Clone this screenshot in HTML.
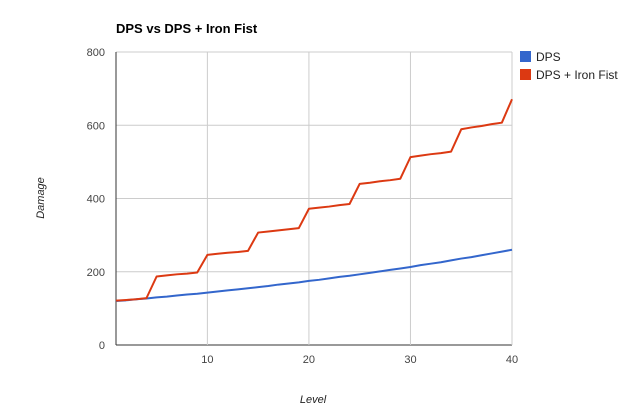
<!DOCTYPE html>
<html><head><meta charset="utf-8"><style>
body{margin:0;background:#fff;font-family:"Liberation Sans",Arial,sans-serif;}
svg text{font-family:"Liberation Sans",Arial,sans-serif;}
</style></head><body>
<svg id="chart" width="640" height="408" xmlns="http://www.w3.org/2000/svg">
<text x="116" y="33" font-size="13" font-weight="bold" fill="#000">DPS vs DPS + Iron Fist</text>
<g id="grid"></g>
<g id="series"></g>
<g>
<rect x="520" y="51" width="11" height="11" fill="#3366cc"/>
<text x="536" y="61" font-size="12" fill="#222">DPS</text>
<rect x="520" y="69" width="11" height="11" fill="#dc3912"/>
<text x="536" y="79" font-size="12" fill="#222">DPS + Iron Fist</text>
</g>
<text transform="translate(44,198) rotate(-90)" text-anchor="middle" font-size="11" font-style="italic" fill="#222">Damage</text>
<text x="313" y="403" text-anchor="middle" font-size="11" font-style="italic" fill="#222">Level</text>
</svg>
<script>
const levels = [1,2,3,4,5,6,7,8,9,10,11,12,13,14,15,16,17,18,19,20,21,22,23,24,25,26,27,28,29,30,31,32,33,34,35,36,37,38,39,40];
const dps = [120,122,125,127,130,132,135,138,140,143,146,149,152,155,158,161,165,168,171,175,178,182,186,189,193,197,201,205,209,213,218,222,226,231,236,240,245,250,255,260];
const dpsIronFist = [121,123,125,128,187,190,193,195,198,246,249,252,254,257,307,310,313,316,319,372,375,378,382,385,440,443,447,450,454,513,517,521,524,528,589,594,598,603,607,671];
const yTicks = [0,200,400,600,800];
const xTicks = [10,20,30,40];

const NS="http://www.w3.org/2000/svg";
const X0=116,X1=512,Y0=345,Y1=52;
function xs(v){return X0+(v-1)/(40-1)*(X1-X0);}
function ys(v){return Y0-v/800*(Y0-Y1);}
const grid=document.getElementById('grid');
function mk(tag,attrs,parent){const e=document.createElementNS(NS,tag);for(const k in attrs)e.setAttribute(k,attrs[k]);parent.appendChild(e);return e;}
yTicks.forEach(t=>{
  const l=mk('line',{x1:X0,x2:X1,y1:ys(t),y2:ys(t),stroke:t===0?'#333':'#ccc','stroke-width':1},grid);
  
  
  const tx=mk('text',{x:105,y:ys(t)+4,'text-anchor':'end','font-size':11,fill:'#444'},grid);
  tx.textContent=t;
  
  
});
xTicks.forEach(t=>{
  const l=mk('line',{x1:xs(t),x2:xs(t),y1:Y1,y2:Y0,stroke:'#ccc','stroke-width':1},grid);
  
  
  const tx=mk('text',{x:xs(t),y:Y0+18,'text-anchor':'middle','font-size':11,fill:'#444'},grid);
  tx.textContent=t;
  
  
});
const ax=mk('line',{x1:X0,x2:X0,y1:Y1,y2:Y0,stroke:'#333','stroke-width':1},grid);


const ser=document.getElementById('series');
function line(vals,color,name){
  const p=mk('polyline',{points:vals.map((v,i)=>xs(levels[i])+','+ys(v)).join(' '),fill:'none',stroke:color,'stroke-width':2,'stroke-linejoin':'round'},ser);
  
  
}
line(dps,'#3366cc','series-dps');
line(dpsIronFist,'#dc3912','series-dps-iron-fist');
</script>
</body></html>
